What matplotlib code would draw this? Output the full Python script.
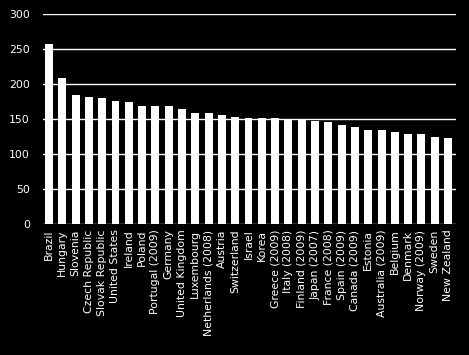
import matplotlib
matplotlib.use("Agg")
import matplotlib.pyplot as plt

countries = ["Brazil", "Hungary", "Slovenia", "Czech Republic", "Slovak Republic",
             "United States", "Ireland", "Poland", "Portugal (2009)", "Germany",
             "United Kingdom", "Luxembourg", "Netherlands (2008)", "Austria",
             "Switzerland", "Israel", "Korea", "Greece (2009)", "Italy (2008)",
             "Finland (2009)", "Japan (2007)", "France (2008)", "Spain (2009)",
             "Canada (2009)", "Estonia", "Australia (2009)", "Belgium", "Denmark",
             "Norway (2009)", "Sweden", "New Zealand"]
values = [257, 209, 184, 181, 180, 176, 174, 169, 169, 168, 165, 159, 159, 156,
          153, 152, 151, 151, 150, 149.5, 147, 146, 141, 138, 135, 135, 131, 129,
          128.5, 125, 123.5]
yticks = [0, 50, 100, 150, 200, 250, 300]

plt.rcParams['font.family'] = ['DejaVu Sans']
fig = plt.figure(figsize=(4.69, 3.55), dpi=100, facecolor='black')
ax = fig.add_axes([43/469, 1 - 224/355, (456-43)/469, (224-14)/355])
ax.set_facecolor('black')
x = range(len(countries))
ax.bar(x, values, width=0.6, color='white', zorder=3)
ax.set_ylim(0, 300)
ax.set_xlim(-0.45, len(countries) - 0.4)
ax.set_yticks(yticks)
ax.grid(axis='y', color='white', linewidth=1, zorder=0)
ax.set_xticks(list(x))
ax.set_xticklabels(countries, rotation=90, fontsize=7.8, color='white')
ax.tick_params(axis='y', colors='white', labelsize=7.8, length=0, pad=9.5)
ax.tick_params(axis='x', length=0, pad=4)
for s in ax.spines.values():
    s.set_visible(False)
fig.savefig("out.png", dpi=100, facecolor='black')
